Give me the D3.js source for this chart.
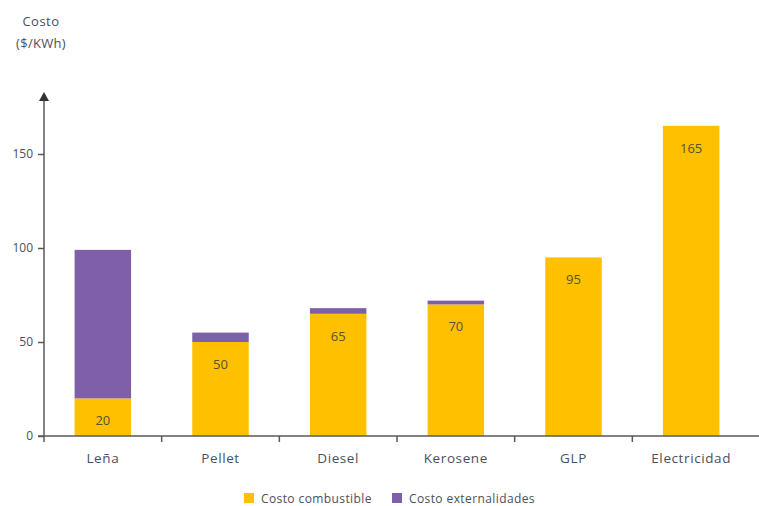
<!DOCTYPE html>
<html>
<head>
<meta charset="utf-8">
<script src="https://cdn.jsdelivr.net/npm/d3@7"></script>
<style>
  body { margin: 0; background: #fff; }
  text { font-family: "Open Sans", sans-serif; }
</style>
</head>
<body>
<script>
// data
var categories = ["Leña", "Pellet", "Diesel", "Kerosene", "GLP", "Electricidad"];
var combustible = [20, 50, 65, 70, 95, 165];
var externalidades = [79, 5, 3, 2, 0, 0];
var yTicks = [0, 50, 100, 150];
var seriesNames = ["Costo combustible", "Costo externalidades"];
var colors = ["#FFC000", "#7F60A8"];

var width = 759, height = 506;
var x0 = 44, x1 = 750, yBase = 436;

var svg = d3.select("body").append("svg")
    .attr("width", width)
    .attr("height", height);

var x = d3.scaleBand()
    .domain(categories)
    .range([x0, x1])
    .paddingInner(0.52)
    .paddingOuter(0.26);

var y = d3.scaleLinear()
    .domain([0, 150])
    .range([yBase, 154]);

var axisColor = "#595959";
var textColor = "#4a4f5c";

// title
svg.append("text").attr("x", 41).attr("y", 26).attr("text-anchor", "middle")
   .style("font-size", "13px").style("letter-spacing", "0.5px")
   .style("fill", textColor).text("Costo");
svg.append("text").attr("x", 41).attr("y", 48).attr("text-anchor", "middle")
   .style("font-size", "13px").style("letter-spacing", "0.3px")
   .style("fill", textColor).text("($/KWh)");

// bars
var rows = categories.map(function(c, i) {
    return { cat: c, fuel: combustible[i], ext: externalidades[i] };
});

svg.selectAll(".fuel")
   .data(rows)
   .enter()
   .append("rect")
   .attr("class", "fuel")
   .attr("x", function(d) { return x(d.cat); })
   .attr("width", x.bandwidth())
   .attr("y", function(d) { return y(d.fuel); })
   .attr("height", function(d) { return yBase - y(d.fuel); })
   .style("fill", colors[0]);

svg.selectAll(".ext")
   .data(rows.filter(function(d) { return d.ext > 0; }))
   .enter()
   .append("rect")
   .attr("class", "ext")
   .attr("x", function(d) { return x(d.cat); })
   .attr("width", x.bandwidth())
   .attr("y", function(d) { return y(d.fuel + d.ext); })
   .attr("height", function(d) { return y(d.fuel) - y(d.fuel + d.ext); })
   .style("fill", colors[1]);

svg.selectAll(".lbl")
   .data(rows)
   .enter()
   .append("text")
   .attr("class", "lbl")
   .attr("x", function(d) { return x(d.cat) + x.bandwidth() / 2; })
   .attr("y", function(d) { return y(d.fuel) + 27; })
   .attr("text-anchor", "middle")
   .style("font-size", "13px")
   .style("fill", "#5a5130")
   .text(function(d) { return d.fuel; });

// y axis
var yAxis = svg.append("g")
    .attr("transform", "translate(" + x0 + ",0)")
    .call(d3.axisLeft(y).tickValues(yTicks).tickSize(6).tickPadding(5));
yAxis.select(".domain").remove();
yAxis.selectAll("line").style("stroke", axisColor).style("stroke-width", 1.5);
yAxis.selectAll("text").style("font-size", "12px").style("fill", textColor)
     .style("font-family", "'Open Sans', sans-serif");

svg.append("line")
   .attr("x1", x0).attr("x2", x0)
   .attr("y1", yBase).attr("y2", 98)
   .style("stroke", axisColor).style("stroke-width", 1.5);
svg.append("path")
   .attr("d", "M" + x0 + ",92 L" + (x0 - 5) + ",101 L" + (x0 + 5) + ",101 Z")
   .style("fill", "#333");

// x axis
svg.append("line")
   .attr("x1", x0 - 6).attr("x2", width)
   .attr("y1", yBase).attr("y2", yBase)
   .style("stroke", axisColor).style("stroke-width", 1.5);

var step = x.step();
svg.selectAll(".xtick")
   .data(categories)
   .enter()
   .append("line")
   .attr("class", "xtick")
   .attr("x1", function(d, i) { return x0 + i * step; })
   .attr("x2", function(d, i) { return x0 + i * step; })
   .attr("y1", yBase).attr("y2", yBase + 6)
   .style("stroke", axisColor).style("stroke-width", 1.5);

svg.selectAll(".xlbl")
   .data(categories)
   .enter()
   .append("text")
   .attr("class", "xlbl")
   .attr("x", function(d) { return x(d) + x.bandwidth() / 2; })
   .attr("y", 463)
   .attr("text-anchor", "middle")
   .style("font-size", "13.5px")
   .style("letter-spacing", "0.6px")
   .style("fill", textColor)
   .text(function(d) { return d; });

// legend
var legendX = [244, 392];
var legend = svg.selectAll(".leg")
   .data(seriesNames)
   .enter()
   .append("g")
   .attr("transform", function(d, i) { return "translate(" + legendX[i] + ",493)"; });
legend.append("rect").attr("width", 10).attr("height", 10)
   .style("fill", function(d, i) { return colors[i]; });
legend.append("text").attr("x", 17).attr("y", 9.5)
   .style("font-size", "12px").style("letter-spacing", "0.4px")
   .style("fill", textColor)
   .text(function(d) { return d; });
</script>
</body>
</html>
